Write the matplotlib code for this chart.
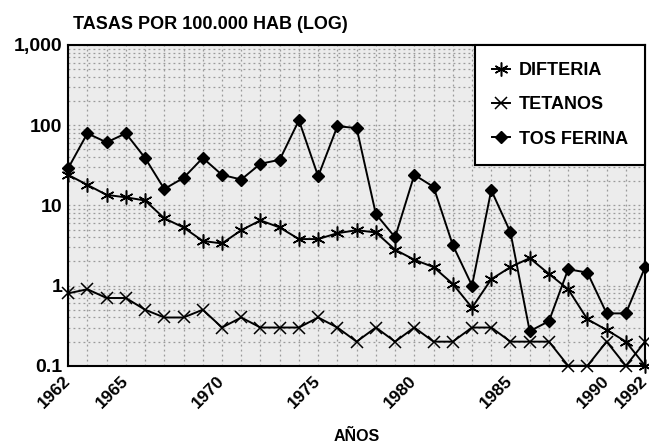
import matplotlib
matplotlib.use("Agg")
import matplotlib.pyplot as plt
import matplotlib.transforms as mtransforms
from matplotlib.ticker import FixedLocator, FixedFormatter, NullFormatter, LogLocator
import numpy as np

plt.rcParams["font.family"] = ["Liberation Sans", "DejaVu Sans"]
plt.rcParams["font.weight"] = "bold"

years = list(range(1962, 1993))

# tasas por 100.000 habitantes
difteria = [24, 18, 13.5, 12.6, 11.5, 6.9, 5.3, 3.6, 3.35, 4.9,
            6.5, 5.3, 3.8, 3.8, 4.5, 4.9, 4.6, 2.8, 2.1, 1.7,
            1.05, 0.53, 1.2, 1.7, 2.2, 1.4, 0.9, 0.38, 0.28, 0.2, 0.1]
tetanos = [0.8, 0.9, 0.7, 0.7, 0.5, 0.4, 0.4, 0.5, 0.3, 0.4,
           0.3, 0.3, 0.3, 0.4, 0.3, 0.2, 0.3, 0.2, 0.3, 0.2,
           0.2, 0.3, 0.3, 0.2, 0.2, 0.2, 0.1, 0.1, 0.2, 0.1, 0.2]
tos_ferina = [29, 79, 61, 79, 39, 16, 22, 39, 24, 21,
              33, 37, 115, 23, 97, 92, 7.8, 4.0, 24, 17,
              3.2, 1.0, 15.5, 4.6, 0.27, 0.36, 1.6, 1.45, 0.45, 0.45, 1.7]

xtick_years = [1962, 1965, 1970, 1975, 1980, 1985, 1990, 1992]
ytick_vals = [0.1, 1, 10, 100, 1000]
ytick_labels = ["0.1", "1", "10", "100", "1,000"]

fig = plt.figure(figsize=(6.49, 4.45), dpi=100, facecolor="white")
ax = fig.add_axes([0.105, 0.178, 0.889, 0.721])
ax.set_facecolor("#ececec")

ax.plot(years, difteria, color="black", lw=1.4, marker=(6, 2, 0), ms=10,
        mew=1.1, label="DIFTERIA", clip_on=False, zorder=3)
ax.plot(years, tetanos, color="black", lw=1.4, marker="x", ms=9,
        mew=1.1, label="TETANOS", clip_on=False, zorder=3)
ax.plot(years, tos_ferina, color="black", lw=1.4, marker="D", ms=6,
        label="TOS FERINA", clip_on=False, zorder=3)

ax.set_yscale("log")
ax.set_ylim(0.1, 1000)
ax.set_xlim(1962, 1992)

ax.yaxis.set_major_locator(FixedLocator(ytick_vals))
ax.yaxis.set_major_formatter(FixedFormatter(ytick_labels))
ax.yaxis.set_minor_locator(LogLocator(base=10, subs=np.arange(2, 10)))
ax.yaxis.set_minor_formatter(NullFormatter())
ax.set_xticks(xtick_years)
ax.set_xticks(years, minor=True)
ax.set_xticklabels([str(y) for y in xtick_years], rotation=45, ha="right",
                   va="center", rotation_mode="anchor", fontsize=12.5,
                   fontweight="bold")
shift = mtransforms.ScaledTranslation(-2 / 100, 0, fig.dpi_scale_trans)
for lab in ax.get_xticklabels():
    lab.set_transform(lab.get_transform() + shift)
for lab in ax.get_yticklabels():
    lab.set_fontsize(14)
    lab.set_fontweight("bold")
ax.tick_params(which="both", length=0)
ax.tick_params(axis="x", pad=9)
ax.tick_params(axis="y", pad=4)

ax.grid(which="both", axis="both", color="#9a9a9a", linestyle=(0, (1.5, 2.5)),
        linewidth=0.9)
ax.set_axisbelow(True)
for s in ax.spines.values():
    s.set_linewidth(1.5)

fig.text(0.112, 0.946, "TASAS POR 100.000 HAB (LOG)", fontsize=13,
         fontweight="bold", ha="left", va="center")
fig.text(0.549, 0.018, "AÑOS", fontsize=11.5, fontweight="bold",
         ha="center", va="center")

leg = ax.legend(loc="upper right", bbox_to_anchor=(1.0, 1.0), borderaxespad=0,
                fancybox=False, edgecolor="black", framealpha=1,
                prop={"weight": "bold", "size": 13}, handlelength=0.95,
                handletextpad=0.5, labelspacing=0.95, borderpad=0.96)
leg.get_frame().set_linewidth(1.5)

fig.savefig("out.png", dpi=100, facecolor="white")
